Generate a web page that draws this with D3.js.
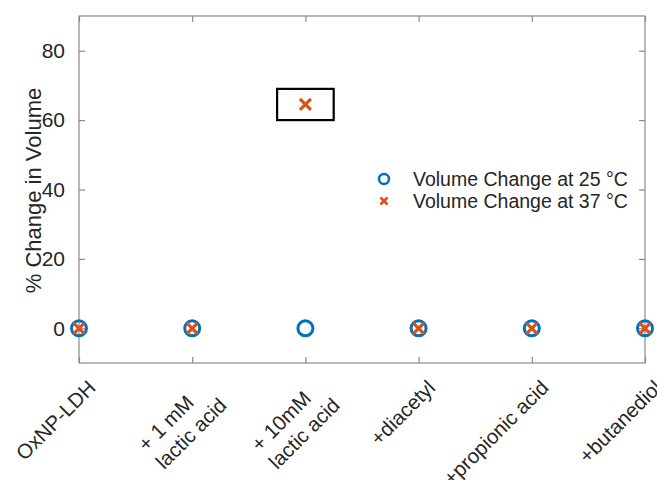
<!DOCTYPE html>
<html>
<head>
<meta charset="utf-8">
<script src="https://cdn.jsdelivr.net/npm/d3@7"></script>
<style>
  html, body { margin: 0; padding: 0; background: #fff; }
  svg { display: block; font-family: "Liberation Sans", Arial, Helvetica, sans-serif; }
</style>
</head>
<body>
<svg id="chart" width="657" height="480"></svg>
<script>
// Sample conditions (multi-line labels split on "\n")
const categories = [
  "OxNP-LDH",
  "+ 1 mM\nlactic acid",
  "+ 10mM\nlactic acid",
  "+diacetyl",
  "+propionic acid",
  "+butanediol"
];
// % change in volume at each temperature
const change25 = [0, 0, 0, 0, 0, 0];
const change37 = [0, 0, 64.5, 0, 0, 0];
const yTicks = [0, 20, 40, 60, 80];
const yDomain = [-10, 90];
const seriesNames = ["Volume Change at 25 \u00B0C", "Volume Change at 37 \u00B0C"];
// Highlight box around the 10 mM result: [category index span, value span]
const highlightX = [1.75, 2.25];
const highlightY = [60, 69];

const blue = "#0072BD", orange = "#D95319", axisGray = "#8a8a8a", textCol = "#262626";
const svg = d3.select("#chart");
const L = 79, R = 645, T = 16, B = 363;

const x = d3.scaleLinear().domain([0, categories.length - 1]).range([L, R]);
const y = d3.scaleLinear().domain(yDomain).range([B, T]);

// Axes frame with inward ticks on all four sides
const tickLen = 6;
svg.append("rect").attr("x", L).attr("y", T).attr("width", R - L).attr("height", B - T)
  .attr("fill", "none").attr("stroke", axisGray).attr("stroke-width", 1.2);

function styleTicks(g) {
  g.select(".domain").remove();
  g.selectAll(".tick line").attr("stroke", axisGray).attr("stroke-width", 1.2);
}

const leftAxis = d3.axisLeft(y).tickValues(yTicks).tickSizeInner(-tickLen).tickSizeOuter(0).tickPadding(tickLen + 8);
const gL = svg.append("g").attr("transform", `translate(${L},0)`).call(leftAxis);
styleTicks(gL);
gL.selectAll(".tick text").attr("fill", textCol).style("font-size", "21px")
  .style("font-family", "'Liberation Sans', Arial, sans-serif");

const rightAxis = d3.axisRight(y).tickValues(yTicks).tickSizeInner(-tickLen).tickSizeOuter(0).tickFormat("");
styleTicks(svg.append("g").attr("transform", `translate(${R},0)`).call(rightAxis));

const idx = d3.range(categories.length);
const bottomAxis = d3.axisBottom(x).tickValues(idx).tickSizeInner(-tickLen).tickSizeOuter(0).tickFormat("");
styleTicks(svg.append("g").attr("transform", `translate(0,${B})`).call(bottomAxis));

const topAxis = d3.axisTop(x).tickValues(idx).tickSizeInner(-tickLen).tickSizeOuter(0).tickFormat("");
styleTicks(svg.append("g").attr("transform", `translate(0,${T})`).call(topAxis));

// Rotated category labels: block's top-right corner pinned near each tick
const lh = 25, fs = 20.5;
categories.forEach((c, i) => {
  const lines = c.split("\n");
  const g = svg.append("g")
    .attr("transform", `translate(${x(i) + 4},375) rotate(-45)`);
  const texts = lines.map((ln, j) => g.append("text")
    .attr("y", lh / 2 + j * lh)
    .attr("dy", "0.35em")
    .attr("fill", textCol)
    .style("font-size", fs + "px")
    .text(ln));
  const w = d3.max(texts, t => t.node().getComputedTextLength());
  texts.forEach(t => t.attr("x", -w));
});

// Y-axis title
svg.append("text")
  .attr("transform", `translate(33,${(T + B) / 2 + 1}) rotate(-90)`)
  .attr("text-anchor", "middle")
  .attr("dy", "0.35em")
  .attr("fill", textCol)
  .style("font-size", "22px")
  .text("% Change in Volume");

// Highlight rectangle
svg.append("rect")
  .attr("x", x(highlightX[0])).attr("y", y(highlightY[1]))
  .attr("width", x(highlightX[1]) - x(highlightX[0]))
  .attr("height", y(highlightY[0]) - y(highlightY[1]))
  .attr("fill", "none").attr("stroke", "#000").attr("stroke-width", 2.2);

// 25 °C: open circles
svg.append("g").selectAll("circle").data(change25).join("circle")
  .attr("cx", (d, i) => x(i)).attr("cy", d => y(d)).attr("r", 7.5)
  .attr("fill", "none").attr("stroke", blue).attr("stroke-width", 3);

// 37 °C: crosses
function crossPath(cx, cy, s) {
  return `M${cx - s},${cy - s}L${cx + s},${cy + s}M${cx - s},${cy + s}L${cx + s},${cy - s}`;
}
svg.append("g").selectAll("path").data(change37).join("path")
  .attr("d", (d, i) => crossPath(x(i), y(d), 5.5))
  .attr("stroke", orange).attr("stroke-width", 3.2).attr("fill", "none");

// Legend
const lg = svg.append("g");
const legY = [179, 201];
lg.append("circle").attr("cx", 384).attr("cy", legY[0]).attr("r", 5)
  .attr("fill", "none").attr("stroke", blue).attr("stroke-width", 2.5);
lg.append("path").attr("d", crossPath(384, legY[1], 3.5))
  .attr("stroke", orange).attr("stroke-width", 2.8).attr("fill", "none");
seriesNames.forEach((s, j) => {
  lg.append("text").attr("x", 413).attr("y", legY[j]).attr("dy", "0.35em")
    .attr("fill", textCol).style("font-size", "19.5px").text(s);
});
</script>
</body>
</html>
